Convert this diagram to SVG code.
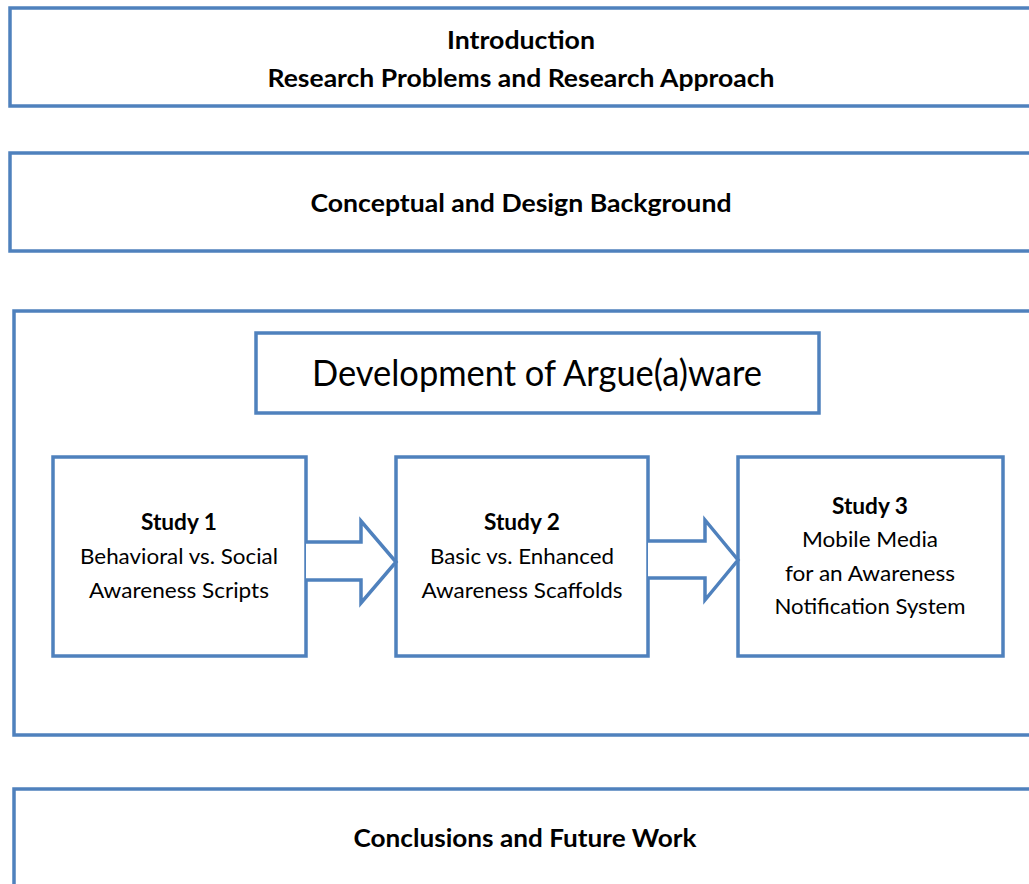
<svg xmlns="http://www.w3.org/2000/svg" width="1029" height="884" viewBox="0 0 1029 884">
  <style>
    .box { fill: #ffffff; stroke: #4f81bd; stroke-width: 3.5; }
    .arrow { fill: #ffffff; stroke: #4f81bd; stroke-width: 3.5; stroke-linejoin: miter; }
    text { font-family: Lato, "Open Sans", "Liberation Sans", sans-serif; fill: #000000; text-anchor: middle; }
    .h { font-weight: bold; font-size: 25px; }
    .s { font-weight: bold; font-size: 22px; }
    .t { font-size: 22px; }
    .big { font-size: 36px; }
  </style>
  <rect width="1029" height="884" fill="#ffffff"/>

  <g id="intro">
    <rect class="box" x="10" y="8" width="1040" height="98"/>
    <text class="h" x="521" y="49" textLength="148" lengthAdjust="spacingAndGlyphs">Introduction</text>
    <text class="h" x="521" y="87" textLength="507" lengthAdjust="spacingAndGlyphs">Research Problems and Research Approach</text>
  </g>

  <g id="background">
    <rect class="box" x="10" y="153" width="1040" height="98"/>
    <text class="h" x="521" y="212" textLength="421" lengthAdjust="spacingAndGlyphs">Conceptual and Design  Background</text>
  </g>

  <g id="development">
    <rect class="box" x="14" y="311" width="1036" height="424"/>
  </g>

  <g id="argueaware">
    <rect class="box" x="256" y="333" width="563" height="80"/>
    <text class="big" x="537" y="386" textLength="450" lengthAdjust="spacingAndGlyphs">Development of Argue(a)ware</text>
  </g>

  <g id="study1">
    <rect class="box" x="53" y="457" width="253" height="199"/>
    <text class="s" x="179" y="530" textLength="76" lengthAdjust="spacingAndGlyphs">Study 1</text>
    <text class="t" x="179" y="564" textLength="198" lengthAdjust="spacingAndGlyphs">Behavioral vs. Social</text>
    <text class="t" x="179" y="598" textLength="180" lengthAdjust="spacingAndGlyphs">Awareness Scripts</text>
  </g>

  <g id="study2">
    <rect class="box" x="396" y="457" width="252" height="199"/>
    <text class="s" x="522" y="530" textLength="76" lengthAdjust="spacingAndGlyphs">Study 2</text>
    <text class="t" x="522" y="564" textLength="184" lengthAdjust="spacingAndGlyphs">Basic vs. Enhanced</text>
    <text class="t" x="522" y="598" textLength="201" lengthAdjust="spacingAndGlyphs">Awareness Scaffolds</text>
  </g>

  <g id="study3">
    <rect class="box" x="738" y="457" width="265" height="199"/>
    <text class="s" x="870" y="514" textLength="76" lengthAdjust="spacingAndGlyphs">Study 3</text>
    <text class="t" x="870" y="547" textLength="136" lengthAdjust="spacingAndGlyphs">Mobile Media</text>
    <text class="t" x="870" y="581" textLength="170" lengthAdjust="spacingAndGlyphs">for an Awareness</text>
    <text class="t" x="870" y="614" textLength="191" lengthAdjust="spacingAndGlyphs">Notification System</text>
  </g>

  <g id="connectors">
    <path class="arrow" d="M306 542 H361 V521 L396 562 L361 603 V580 H306"/>
    <path class="arrow" d="M648 541 H705 V520 L738 560 L705 600 V578 H648"/>
  </g>

  <g id="conclusions">
    <rect class="box" x="14" y="789" width="1036" height="120"/>
    <text class="h" x="525" y="847" textLength="343" lengthAdjust="spacingAndGlyphs">Conclusions and Future Work</text>
  </g>
</svg>
